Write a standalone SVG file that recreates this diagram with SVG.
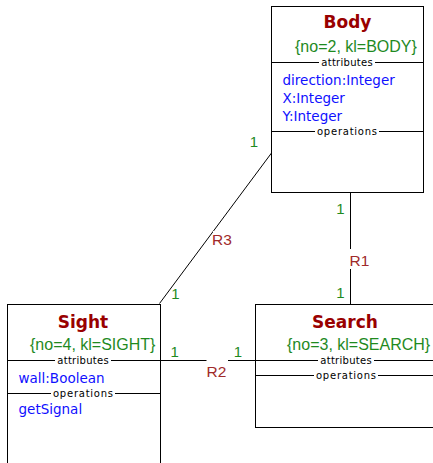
<svg xmlns="http://www.w3.org/2000/svg" width="433" height="463" viewBox="0 0 433 463">
<style>
.box{fill:#fff;stroke:#000;stroke-width:1}
.sepl{stroke:#000;stroke-width:1}
.conn{stroke:#000;stroke-width:1;fill:none}
.bg{fill:#fff;stroke:none}
text{font-family:"DejaVu Sans","Liberation Sans",sans-serif;font-size:13.5px}
.title{font-weight:bold;font-size:17px;fill:#990000;text-anchor:middle}
.stereo{font-family:"Liberation Sans",Arial,sans-serif;font-size:16px;fill:#1f8a1f}
.attr{fill:#1010ff}
.sep{font-size:10px;fill:#000;text-anchor:middle}
.mult{font-family:"Liberation Sans",Arial,sans-serif;font-size:15px;fill:#1f8a1f;text-anchor:middle}
.rel{font-family:"Liberation Sans",Arial,sans-serif;font-size:15.5px;fill:#a02a2a}
</style>
<rect width="433" height="463" fill="#fff"/>
<g id="connectors">
<line class="conn" x1="350.5" y1="192.5" x2="350.5" y2="304.5"/>
<line class="conn" x1="160.5" y1="360.5" x2="255.5" y2="360.5"/>
<line class="conn" x1="271.5" y1="153" x2="159.5" y2="303.5"/>
<rect class="bg" x="348" y="249" width="20" height="20"/>
<text class="rel" x="349.5" y="265.5">R1</text>
<rect class="bg" x="206.5" y="358" width="21.5" height="20"/>
<text class="rel" x="206.5" y="376.5">R2</text>
<rect class="bg" x="213" y="231" width="20" height="16"/>
<text class="rel" x="212" y="245">R3</text>
<text class="mult" x="340.5" y="214">1</text>
<text class="mult" x="340.5" y="298">1</text>
<text class="mult" x="174.7" y="356.5">1</text>
<text class="mult" x="238" y="356.5">1</text>
<text class="mult" x="254" y="146.5">1</text>
<text class="mult" x="175.5" y="299">1</text>
</g>
<g id="body">
<rect class="box" x="271.5" y="6.5" width="152" height="186"/>
<text class="title" x="347.5" y="28">Body</text>
<text class="stereo" x="295" y="51.5">{no=2, kl=BODY}</text>
<line class="sepl" x1="271.5" y1="62.5" x2="423.5" y2="62.5"/>
<rect class="bg" x="319" y="57" width="56" height="10"/>
<text class="sep" x="347" y="66" textLength="51.5" lengthAdjust="spacing">attributes</text>
<text class="attr" x="282.5" y="84.5">direction:Integer</text>
<text class="attr" x="282.5" y="102.5">X:Integer</text>
<text class="attr" x="282.5" y="120.5">Y:Integer</text>
<line class="sepl" x1="271.5" y1="131.5" x2="423.5" y2="131.5"/>
<rect class="bg" x="315" y="126" width="64" height="10"/>
<text class="sep" x="347" y="135" textLength="60" lengthAdjust="spacing">operations</text>
</g>
<g id="sight">
<rect class="box" x="7.5" y="304.5" width="153" height="170"/>
<text class="title" x="83" y="327.5">Sight</text>
<text class="stereo" x="30" y="350">{no=4, kl=SIGHT}</text>
<line class="sepl" x1="7.5" y1="360.5" x2="160.5" y2="360.5"/>
<rect class="bg" x="55" y="355" width="56" height="10"/>
<text class="sep" x="83" y="364" textLength="51.5" lengthAdjust="spacing">attributes</text>
<text class="attr" x="18.5" y="382.5">wall:Boolean</text>
<line class="sepl" x1="7.5" y1="393.5" x2="160.5" y2="393.5"/>
<rect class="bg" x="51" y="388" width="64" height="10"/>
<text class="sep" x="83" y="397" textLength="60" lengthAdjust="spacing">operations</text>
<text class="attr" x="18.5" y="414">getSignal</text>
</g>
<g id="search">
<rect class="box" x="255.5" y="304.5" width="190" height="123"/>
<text class="title" x="345" y="328">Search</text>
<text class="stereo" x="287" y="350">{no=3, kl=SEARCH}</text>
<line class="sepl" x1="255.5" y1="360.5" x2="445" y2="360.5"/>
<rect class="bg" x="318" y="355" width="56" height="10"/>
<text class="sep" x="346" y="364" textLength="51.5" lengthAdjust="spacing">attributes</text>
<line class="sepl" x1="255.5" y1="375.5" x2="445" y2="375.5"/>
<rect class="bg" x="314" y="370" width="64" height="10"/>
<text class="sep" x="346" y="379" textLength="60" lengthAdjust="spacing">operations</text>
</g>
</svg>
